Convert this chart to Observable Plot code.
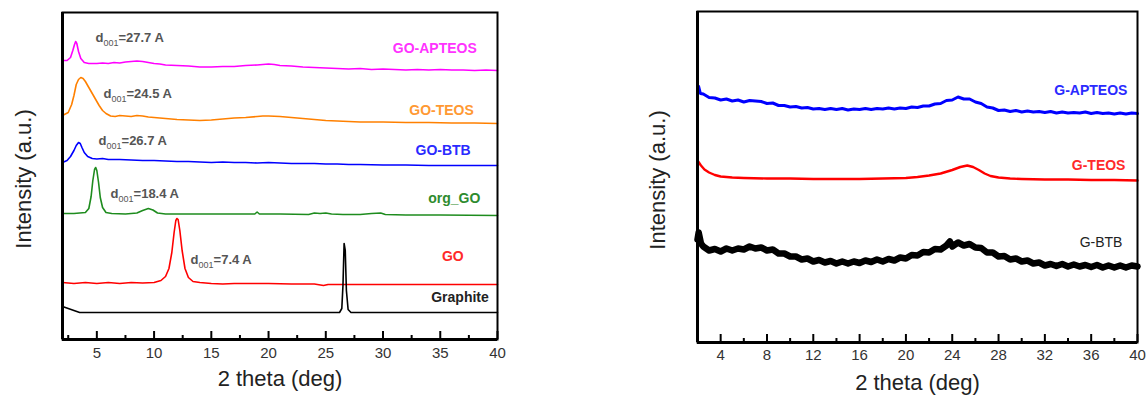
<!DOCTYPE html>
<html>
<head>
<meta charset="utf-8">
<script src="https://cdn.jsdelivr.net/npm/d3@7"></script>
<script src="https://cdn.jsdelivr.net/npm/@observablehq/plot@0.6"></script>
<style>
  body { margin: 0; background: #fff; }
  #wrap { position: relative; width: 1146px; height: 401px; background: #fff; overflow: hidden; }
  #left, #right { position: absolute; top: 0; }
  #left { left: 0; }
  #right { left: 630px; }
</style>
</head>
<body>
<div id="wrap"><div id="left"></div><div id="right"></div></div>
<script>
// ---------- Left panel data: 2 theta (deg), intensity (a.u., stacked) ----------
const GO_APTEOS = [[2.0,279],[2.4,279],[2.7,282],[2.9,289],[3.05,295],[3.15,298],[3.25,296],[3.4,288],[3.6,281],[3.9,277],[4.3,276],[5,276],[5.5,276.5],[6,276],[6.5,277],[7,276.5],[7.5,277.5],[8,278],[8.5,278.5],[9,278],[9.5,277],[10,276],[10.5,275.5],[11,274.5],[12,274],[13,273.5],[14,272.5],[15,272.5],[16,273],[17,273],[18,274],[19,274.5],[19.5,275],[20,275.5],[20.5,275],[21,274],[22,273.5],[23,272.5],[24,272],[25,271.5],[26,271],[27,270.5],[28,271],[29,270],[30,270.5],[31,270],[32,269.5],[33,270],[34,269.5],[35,270],[36,269.5],[37,269.5],[38,269],[39,269.5],[40,269]];
const GO_TEOS = [[2.0,224],[2.5,227],[2.8,235],[3.0,244],[3.2,255],[3.4,260],[3.6,262],[3.8,261],[4.0,258],[4.3,252],[4.6,246],[4.9,240],[5.2,234],[5.5,229],[5.8,226],[6.2,223.5],[6.6,223],[7,224],[7.5,223.5],[8,223],[8.5,224],[9,223.5],[9.5,222.5],[10,222],[10.5,221.5],[11,221],[12,220],[13,219.5],[14,219],[15,219.5],[16,220.5],[17,221.5],[18,222],[19,223],[19.5,223.5],[20,223.5],[21,223],[22,222],[23,221],[24,220],[25,219],[26,218.5],[27,218],[28,217.5],[30,217.5],[32,217],[34,217],[36,216.5],[38,216.5],[40,216]];
const GO_BTB = [[2.0,177],[2.4,179],[2.7,183],[3.0,189],[3.2,194],[3.4,197],[3.55,196],[3.7,192],[3.9,187],[4.2,183],[4.6,181],[5,180.5],[5.5,181],[6,180],[7,180],[8,179.5],[9,179],[10,179],[11,178.5],[12,178],[13,178],[14,177.5],[15,177],[16,177.5],[17,177],[18,177],[19,176.5],[20,177],[21,176.5],[22,176],[23,176],[24,176],[25,175.5],[26,175.5],[27,175],[28,175],[30,174.5],[32,174.5],[34,174],[36,174],[38,174],[40,174]];
const ORG_GO = [[2.0,126],[3.0,126],[4.0,127],[4.3,131],[4.5,143],[4.65,159],[4.8,170],[4.9,172],[5.0,169],[5.15,157],[5.3,142],[5.5,132],[5.8,127],[6.3,126],[7.5,125.5],[8.5,126.5],[9.0,129],[9.5,131],[9.9,129.5],[10.3,126.5],[11,125.5],[13,125.5],[15,125.5],[17,125.5],[18.8,125.5],[19,127.5],[19.2,125.5],[21,125.5],[23.5,125],[24,126.5],[24.5,126],[25,126.5],[25.5,125.5],[26.5,125],[28,125],[29,126],[29.8,126.5],[30.2,125],[32,124.5],[35,124.5],[40,124]];
const GO = [[2.0,57],[3,56],[4,57],[5,56],[6,57],[7,56],[8,57],[9,56.5],[10,57],[10.6,59],[11.0,63],[11.3,71],[11.55,87],[11.75,107],[11.9,119],[12.0,121],[12.1,120],[12.25,109],[12.45,89],[12.7,71],[13.0,62],[13.4,58],[14,57],[15,56],[16,55.5],[17,56],[18,56],[20,56],[22,55.5],[24,55.5],[24.8,54],[25.2,55],[26,55],[28,55],[32,55],[36,55],[40,55]];
const GRAPHITE = [[2.0,33],[2.5,31],[3.0,29],[3.5,27],[5,27],[26.2,27],[26.4,31],[26.5,54],[26.6,96],[26.7,89],[26.8,49],[26.95,30],[27.2,27],[40,27]];

const leftNames = ["GO-APTEOS","GO-TEOS","GO-BTB","org_GO","GO","Graphite"];
const leftLabelX = [38.19, 37.93, 37.66, 38.5, 37.05, 39.24];
const leftLabelY = [291, 229, 189, 141, 83, 42];
const dLabels = ["d001=27.7 A","d001=24.5 A","d001=26.7 A","d001=18.4 A","d001=7.4 A"];
const dLabelX = [4.88, 5.58, 5.15, 6.2, 13.19];
const dLabelY = [302, 246, 199, 146, 80];
const leftMajorTicks = [5,10,15,20,25,30,35,40];
const leftMinorTicks = [2.5,7.5,12.5,17.5,22.5,27.5,32.5,37.5];

// ---------- Right panel data ----------
const G_APTEOS = [[2.0,250],[2.1,256],[2.25,249],[2.5,248.5],[3,245],[3.5,244.5],[4,242.5],[4.5,243.5],[5,241.5],[5.5,242.5],[6,240.5],[6.5,242],[7,241.5],[7.5,241],[8,239],[8.5,239.5],[9,237],[9.5,237],[10,235.5],[10.5,236],[11,234.5],[11.5,235],[12,233.5],[12.5,234],[13,233],[13.5,234],[14,233],[14.5,234],[15,232.5],[15.5,233.5],[16,233],[16.5,234],[17,233],[17.5,234],[18,233.5],[18.5,234.5],[19,233.5],[19.5,234.5],[20,234],[20.5,235.5],[21,235],[21.5,236.5],[22,236.5],[22.5,238.5],[23,239],[23.5,242],[24,242.5],[24.5,245.5],[25,243.5],[25.5,243.5],[26,240.5],[26.5,239],[27,235.5],[27.5,234.5],[28,232],[28.5,232.5],[29,231],[29.5,232],[30,230.5],[30.5,231.5],[31,230.5],[31.5,231],[32,230],[32.5,231],[33,229.5],[33.5,230.5],[34,229.5],[34.5,230],[35,229.5],[35.5,230.5],[36,229],[36.5,230],[37,229],[37.5,229.5],[38,228.5],[38.5,229.5],[39,228.5],[39.5,229.5],[40,229]];
const G_TEOS = [[2.0,182],[2.3,177],[2.6,173],[3.0,170],[3.5,167.5],[4,166],[4.5,165.5],[5,165],[6,164.5],[8,164],[10,164],[12,163.5],[14,163.5],[16,163.5],[18,164],[20,164.5],[21,165.5],[22,167],[23,169],[24,172.5],[24.7,175.5],[25.3,177],[25.8,175.5],[26.3,172.5],[26.8,169],[27.3,166.5],[28,165],[29,164],[30,163.5],[32,163],[34,163],[36,162.5],[38,162.5],[40,162]];
const G_BTB = [[2.0,103],[2.1,110],[2.3,99],[2.5,96],[3,92],[3.5,93.5],[4,91],[4.5,94],[5,92],[5.5,94],[6,93],[6.5,96],[7,94],[7.5,95],[8,92],[8.5,93],[9,89],[9.5,89],[10,86],[10.5,86],[11,83],[11.5,84],[12,81],[12.5,82.5],[13,80],[13.5,81.5],[14,79],[14.5,81],[15,79],[15.5,81],[16,79.5],[16.5,82],[17,80.5],[17.5,83],[18,81],[18.5,83.5],[19,82],[19.5,85],[20,84],[20.5,87.5],[21,87],[21.5,90.5],[22,90],[22.5,93.5],[23,93],[23.5,97],[23.8,101],[24,96],[24.5,100],[25,97],[25.5,98.5],[26,95],[26.5,94.5],[27,90],[27.5,90],[28,86],[28.5,86.5],[29,83],[29.5,84],[30,81],[30.5,82],[31,79],[31.5,80],[32,77],[32.5,78.5],[33,76.5],[33.5,78.5],[34,76],[34.5,78],[35,76],[35.5,77.5],[36,75.5],[36.5,77.5],[37,75],[37.5,77],[38,75],[38.5,77],[39,75],[39.5,77],[40,76]];

const rightNames = ["G-APTEOS","G-TEOS","G-BTB"];
const rightLabelX = [39.13, 38.96, 38.7];
const rightLabelY = [252, 177, 100];
const rightMajorTicks = [4,8,12,16,20,24,28,32,36,40];
const rightMinorTicks = [2,6,10,14,18,22,26,30,34,38];

const FONT = "'Liberation Sans', Arial, sans-serif";

const leftLines = [
  [GO_APTEOS, "#ff00ff", 1.6],
  [GO_TEOS, "#ff8000", 1.6],
  [GO_BTB, "#0000ff", 1.6],
  [ORG_GO, "#1e8c1e", 1.6],
  [GO, "#ff0000", 1.6],
  [GRAPHITE, "#000000", 1.6]
];
const leftLabelColors = ["#ff33ff","#ff9933","#2a2aff","#2e8b2e","#ff2a2a","#222222"];

const leftLabels = leftNames.map((n, i) => ({n, x: leftLabelX[i], y: leftLabelY[i], c: leftLabelColors[i]}));
const dTable = dLabels.map((n, i) => ({n, x: dLabelX[i], y: dLabelY[i]}));

const left = Plot.plot({
  width: 520, height: 401,
  marginLeft: 62, marginRight: 23, marginTop: 12, marginBottom: 62,
  x: {domain: [2, 40], label: null},
  y: {domain: [0, 327], axis: null, label: null},
  style: {fontFamily: FONT, background: "white"},
  marks: [
    ...leftLines.map(([d, c, w]) => Plot.line(d, {x: "0", y: "1", stroke: c, strokeWidth: w})),
    Plot.ruleX(leftMajorTicks, {y1: 0, y2: 8, strokeWidth: 2}),
    Plot.ruleX(leftMinorTicks, {y1: 0, y2: 4, strokeWidth: 2}),
    Plot.frame({strokeWidth: 2}),
    Plot.ruleY([0], {strokeWidth: 3}),
    Plot.ruleX([2], {strokeWidth: 3}),
    Plot.axisX(leftMajorTicks, {tickSize: 0, tickPadding: 8, fontSize: 15, fill: "#333", label: null}),
    Plot.text(["2 theta (deg)"], {frameAnchor: "bottom", dy: 46, fontSize: 22, fill: "#222"}),
    Plot.text(["Intensity (a.u.)"], {frameAnchor: "left", rotate: -90, textAnchor: "middle", dx: -39, dy: 3, fontSize: 22, fill: "#222"}),
    Plot.text(leftLabels, {x: "x", y: "y", text: "n", fill: "c", textAnchor: "end", fontSize: 14, fontWeight: "bold"}),
    Plot.text(dTable, {x: "x", y: "y", text: "n", fill: "#555", textAnchor: "start", fontSize: 13, fontWeight: "bold"})
  ]
});

const rightLines = [
  [G_APTEOS, "#0000ff", 3],
  [G_TEOS, "#ff0000", 2.4],
  [G_BTB, "#000000", 6.5]
];
const rightLabelColors = ["#2a2aff","#ff2a2a","#222222"];
const rightWeights = ["bold","bold","normal"];
const rightLabels = rightNames.map((n, i) => ({n, x: rightLabelX[i], y: rightLabelY[i], c: rightLabelColors[i], w: rightWeights[i]}));

const right = Plot.plot({
  width: 516, height: 401,
  marginLeft: 67, marginRight: 9, marginTop: 11, marginBottom: 59,
  x: {domain: [2, 40], label: null},
  y: {domain: [0, 331], axis: null, label: null},
  style: {fontFamily: FONT, background: "white"},
  marks: [
    ...rightLines.map(([d, c, w]) => Plot.line(d, {x: "0", y: "1", stroke: c, strokeWidth: w})),
    Plot.ruleX(rightMajorTicks, {y1: 0, y2: 8, strokeWidth: 2}),
    Plot.ruleX(rightMinorTicks, {y1: 0, y2: 4, strokeWidth: 2}),
    Plot.frame({strokeWidth: 2}),
    Plot.ruleY([0], {strokeWidth: 3}),
    Plot.ruleX([2], {strokeWidth: 3}),
    Plot.axisX(rightMajorTicks, {tickSize: 0, tickPadding: 7, fontSize: 15, fill: "#333", label: null}),
    Plot.text(["2 theta (deg)"], {frameAnchor: "bottom", dy: 47, fontSize: 22, fill: "#222"}),
    Plot.text(["Intensity (a.u.)"], {frameAnchor: "left", rotate: -90, textAnchor: "middle", dx: -40, dy: 3, fontSize: 22, fill: "#222"}),
    Plot.text(rightLabels.filter(d => d.w === "bold"), {x: "x", y: "y", text: "n", fill: "c", textAnchor: "end", fontSize: 14, fontWeight: "bold"}),
    Plot.text(rightLabels.filter(d => d.w !== "bold"), {x: "x", y: "y", text: "n", fill: "c", textAnchor: "end", fontSize: 14})
  ]
});

document.getElementById("left").appendChild(left);
document.getElementById("right").appendChild(right);

// subscripts for d001 labels
left.querySelectorAll("text").forEach(t => {
  const s = t.textContent;
  if (s.startsWith("d001")) {
    const rest = s.slice(4);
    t.textContent = "";
    const ns = "http://www.w3.org/2000/svg";
    const a = document.createElementNS(ns, "tspan"); a.textContent = "d";
    const b = document.createElementNS(ns, "tspan"); b.textContent = "001"; b.setAttribute("font-size", "9"); b.setAttribute("font-weight", "normal"); b.setAttribute("dy", "4");
    const c = document.createElementNS(ns, "tspan"); c.textContent = rest; c.setAttribute("dy", "-4");
    t.append(a, b, c);
  }
});
</script>
</body>
</html>
